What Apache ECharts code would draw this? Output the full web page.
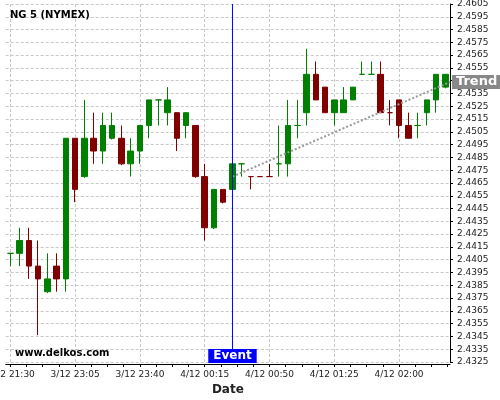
<!DOCTYPE html>
<html>
<head>
<meta charset="utf-8">
<script src="https://cdn.jsdelivr.net/npm/echarts@6/dist/echarts.min.js"></script>
<style>html,body{margin:0;padding:0;background:#fff;}#c{width:500px;height:400px;}</style>
</head>
<body>
<div id="c"></div>
<script>
// ---- data ----
const categories = [
  '3/12 21:30','3/12 22:35','3/12 22:40','3/12 22:45','3/12 22:50','3/12 22:55','3/12 23:00',
  '3/12 23:05','3/12 23:10','3/12 23:15','3/12 23:20','3/12 23:25','3/12 23:30','3/12 23:35',
  '3/12 23:40','3/12 23:45','3/12 23:50','3/12 23:55','4/12 00:00','4/12 00:05','4/12 00:10',
  '4/12 00:15','4/12 00:20','4/12 00:25','4/12 00:30','4/12 00:35','4/12 00:40','4/12 00:45',
  '4/12 00:50','4/12 00:55','4/12 01:00','4/12 01:05','4/12 01:10','4/12 01:15','4/12 01:20',
  '4/12 01:25','4/12 01:30','4/12 01:35','4/12 01:40','4/12 01:45','4/12 01:50','4/12 01:55',
  '4/12 02:00','4/12 02:05','4/12 02:10','4/12 02:15','4/12 02:20','4/12 02:25'
];
const opens  = [2.4410,2.4410,2.4420,2.4400,2.4380,2.4400,2.4390,2.4500,2.4470,2.4500,2.4490,2.4500,
                2.4500,2.4480,2.4490,2.4510,2.4530,2.4520,2.4520,2.4510,2.4510,2.4470,2.4430,2.4460,
                2.4460,2.4480,2.4470,2.4470,2.4470,2.4480,2.4480,2.4510,2.4520,2.4550,2.4540,2.4520,
                2.4520,2.4530,2.4550,2.4550,2.4550,2.4520,2.4530,2.4510,2.4510,2.4520,2.4530,2.4540];
const closes = [2.4410,2.4420,2.4400,2.4390,2.4390,2.4390,2.4500,2.4460,2.4500,2.4490,2.4510,2.4510,
                2.4480,2.4490,2.4510,2.4530,2.4530,2.4530,2.4500,2.4520,2.4470,2.4430,2.4460,2.4450,
                2.4480,2.4480,2.4470,2.4470,2.4470,2.4480,2.4510,2.4510,2.4550,2.4530,2.4520,2.4530,
                2.4530,2.4540,2.4550,2.4550,2.4520,2.4520,2.4510,2.4500,2.4510,2.4530,2.4550,2.4550];
const lows   = [2.4400,2.4400,2.4390,2.4346,2.4379,2.4380,2.4380,2.4450,2.4469,2.4480,2.4480,2.4499,
                2.4479,2.4470,2.4480,2.4500,2.4510,2.4510,2.4490,2.4500,2.4469,2.4420,2.4429,2.4449,
                2.4460,2.4470,2.4460,2.4470,2.4470,2.4470,2.4470,2.4500,2.4510,2.4530,2.4520,2.4510,
                2.4520,2.4530,2.4550,2.4550,2.4520,2.4510,2.4500,2.4500,2.4500,2.4510,2.4520,2.4539];
const highs  = [2.4410,2.4430,2.4430,2.4420,2.4410,2.4410,2.4500,2.4500,2.4530,2.4520,2.4520,2.4520,
                2.4510,2.4500,2.4510,2.4530,2.4530,2.4540,2.4520,2.4520,2.4510,2.4480,2.4460,2.4460,
                2.4480,2.4480,2.4470,2.4470,2.4480,2.4510,2.4530,2.4530,2.4570,2.4560,2.4540,2.4530,
                2.4540,2.4540,2.4560,2.4560,2.4560,2.4530,2.4530,2.4520,2.4520,2.4530,2.4550,2.4550];
const redDojis = [26, 27, 28, 41];
const eventIndex = 24;
const trendPoints = [[24, 2.4470], [47.5, 2.4544]];
const yTickMin = 2.4325, yTickMax = 2.4605, yTickStep = 0.001;
const minorTicks = [0,1.75,3.5,5.25,7,8.75,10.5,12.25,14,15.75,17.5,19.25,21,22.75,24.5,26.25,
                    28,29.75,31.5,33.25,35,36.75,38.5,40.25,42,43.75,45.5,47.25];

const UP = '#008000', DOWN = '#800000', BLUE = '#0000ff';
const FONT = 'DejaVu Sans';

const candleData = categories.map((c, i) => {
  const item = { value: [opens[i], closes[i], lows[i], highs[i]] };
  if (opens[i] === closes[i]) {
    const col = redDojis.indexOf(i) >= 0 ? DOWN : UP;
    item.itemStyle = { color: col, color0: col, borderColor: col, borderColor0: col, borderColorDoji: col };
  }
  return item;
});

const chart = echarts.init(document.getElementById('c'), null, { renderer: 'canvas' });
chart.setOption({
  animation: false,
  backgroundColor: '#ffffff',
  textStyle: { fontFamily: FONT },
  title: [
    { text: 'NG 5 (NYMEX)', left: 10, top: 10, padding: 0,
      textStyle: { fontFamily: FONT, fontSize: 10, fontWeight: 'bold', color: '#000' } },
    { text: 'www.delkos.com', left: 15, top: 348, padding: 0,
      textStyle: { fontFamily: FONT, fontSize: 10, fontWeight: 'bold', color: '#000' } }
  ],
  grid: { left: 5.7, right: 50, top: 4, bottom: 38, containLabel: false, outerBoundsMode: 'none' },
  xAxis: [
    {
      type: 'category', data: categories, boundaryGap: true, offset: 2,
      name: 'Date', nameLocation: 'middle', nameGap: 18,
      nameTextStyle: { fontFamily: FONT, fontSize: 12, fontWeight: 'bold', color: '#222' },
      axisLine: { show: true, onZero: false, lineStyle: { color: '#000', width: 1 } },
      axisTick: { show: false },
      axisLabel: { interval: 6, fontFamily: FONT, fontSize: 9, color: '#222', margin: 6 },
      splitLine: { show: true, interval: 6, alignWithLabel: true,
                   lineStyle: { color: '#c8c8c8', type: [3, 2], width: 1 } }
    },
    {
      type: 'value', min: -0.5, max: 47.5, position: 'bottom', offset: 2,
      axisLine: { show: false, onZero: false },
      axisLabel: { show: false },
      splitLine: { show: false },
      axisTick: { show: true, length: 3, customValues: minorTicks, lineStyle: { color: '#000' } }
    }
  ],
  yAxis: {
    type: 'value', position: 'right', scale: true,
    min: yTickMin, max: yTickMax, interval: yTickStep,
    axisLine: { show: true, onZero: false, lineStyle: { color: '#000', width: 1 } },
    axisTick: { show: true, length: 3, lineStyle: { color: '#000' } },
    axisLabel: { fontFamily: FONT, fontSize: 9, color: '#222', margin: 7,
                 formatter: v => v.toFixed(4) },
    splitLine: { show: true, lineStyle: { color: '#c8c8c8', type: [3, 2], width: 1 } }
  },
  series: [
    {
      type: 'candlestick', xAxisIndex: 0, yAxisIndex: 0,
      barWidth: 6,
      data: candleData,
      itemStyle: { color: UP, color0: DOWN, borderColor: UP, borderColor0: DOWN, borderWidth: 1 },
      markPoint: {
        silent: true, animation: false,
        symbol: 'rect', symbolSize: 0,
        label: {
          show: true, position: 'top', distance: 0, offset: [0, 1],
          formatter: 'Event', color: '#fff', fontFamily: FONT, fontSize: 12, fontWeight: 'bold',
          backgroundColor: BLUE, padding: [1, 5], lineHeight: 12
        },
        data: [{ coord: [categories[eventIndex], yTickMin] }]
      }
    },
    {
      type: 'line', xAxisIndex: 1, yAxisIndex: 0,
      data: [[eventIndex, yTickMin], [eventIndex, yTickMax]],
      symbol: 'none', silent: true, clip: false,
      lineStyle: { color: BLUE, width: 1, type: 'solid' },
      itemStyle: { color: BLUE },
      z: 4
    },
    {
      type: 'line', xAxisIndex: 1, yAxisIndex: 0,
      data: trendPoints, symbol: 'none', silent: true,
      lineStyle: { color: '#999', width: 2, type: [2, 2] },
      endLabel: {
        show: true, formatter: 'Trend', distance: 2,
        color: '#fff', fontFamily: FONT, fontSize: 13, fontWeight: 'bold',
        backgroundColor: '#888', padding: [0, 3, 0, 4], lineHeight: 14
      },
      z: 3
    }
  ]
});
</script>
</body>
</html>
